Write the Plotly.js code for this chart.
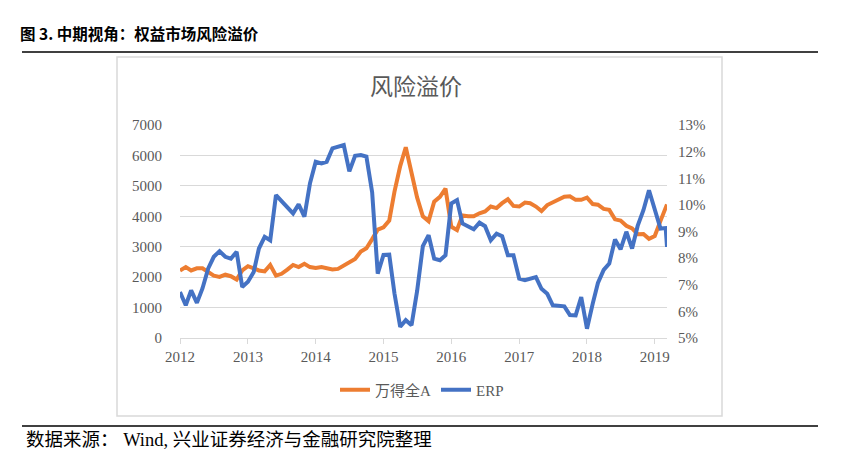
<!DOCTYPE html>
<html>
<head>
<meta charset="utf-8">
<script src="https://cdn.plot.ly/plotly-3.0.1.min.js"></script>
<style>
  body { margin: 0; background: #fff; }
  #plot { width: 842px; height: 456px; }
</style>
</head>
<body>
<div id="plot"></div>
<script>
// Monthly values, Jan 2012 .. Mar 2019, plus one early-March update
let windA = [
  2220, 2330, 2220, 2290, 2290, 2160, 2050, 2010, 2080, 2030, 1920, 2220,
  2360, 2290, 2220, 2190, 2400, 2050, 2110, 2250, 2400, 2330, 2440, 2330,
  2300, 2330, 2300, 2250, 2270, 2380, 2510, 2600, 2840, 2950, 3250, 3560,
  3640, 3860, 4800, 5650, 6270, 5400, 4620, 4000, 3840, 4480, 4640, 4910,
  3660, 3550, 4030, 4000, 4000, 4100, 4160, 4320, 4270, 4430, 4560, 4340,
  4320, 4450, 4430, 4320, 4170, 4370, 4460, 4540, 4640, 4660, 4540, 4540,
  4610, 4400, 4380, 4240, 4210, 3900, 3860, 3690, 3600, 3410, 3420, 3260,
  3350, 3850, 4330, 4390
];

let erp = [
  6.73, 6.23, 6.79, 6.32, 6.86, 7.61, 8.05, 8.26, 8.05, 7.98, 8.24, 6.92,
  7.11, 7.48, 8.36, 8.80, 8.67, 10.37, 10.14, 9.93, 9.68, 10.02, 9.56, 10.81,
  11.62, 11.56, 11.62, 12.12, 12.18, 12.25, 11.26, 11.84, 11.87, 11.81, 10.47, 7.42,
  8.12, 8.13, 6.68, 5.42, 5.67, 5.48, 6.76, 8.45, 8.86, 7.98, 7.92, 8.11,
  10.05, 10.18, 9.30, 9.20, 9.08, 9.33, 9.20, 8.67, 8.92, 8.82, 8.11, 8.11,
  7.23, 7.17, 7.23, 7.29, 6.85, 6.66, 6.23, 6.21, 6.19, 5.86, 5.85, 6.54,
  5.35, 6.29, 7.07, 7.56, 7.80, 8.70, 8.33, 8.99, 8.36, 9.21, 9.80, 10.55,
  9.80, 9.11, 9.13, 8.42
];

let yearTicks = ["2012", "2013", "2014", "2015", "2016", "2017", "2018", "2019"];

// Dates: first of each month, then the last update
let dates = [];
for (let y = 2012; y <= 2019; y++) {
  for (let m = 1; m <= 12; m++) {
    if (y === 2019 && m > 3) break;
    dates.push(y + "-" + String(m).padStart(2, "0") + "-01");
  }
}
dates.push("2019-03-08");

// Pixel -> paper helpers (plot area is x 180..667, y 125..338)
let X = function(px) { return (px - 180) / 487; };
let Y = function(py) { return (338 - py) / 213; };

let serif = "Liberation Serif, Noto Sans CJK SC, serif";
let grey = "#595959";

let trace1 = {
  x: dates,
  y: windA,
  type: "scatter",
  mode: "lines",
  name: "万得全A",
  line: { color: "#ED7D31", width: 4 },
  yaxis: "y"
};

let trace2 = {
  x: dates,
  y: erp,
  type: "scatter",
  mode: "lines",
  name: "ERP",
  line: { color: "#4472C4", width: 4 },
  yaxis: "y2"
};

let layout = {
  width: 842,
  height: 456,
  margin: { l: 180, r: 175, t: 125, b: 118 },
  paper_bgcolor: "#fff",
  plot_bgcolor: "rgba(0,0,0,0)",
  showlegend: true,
  xaxis: {
    type: "date",
    range: ["2012-01-01", "2019-03-08"],
    tickvals: yearTicks.map(function(t) { return t + "-01-01"; }),
    ticktext: yearTicks,
    ticks: "outside",
    ticklen: 5,
    tickcolor: "#D9D9D9",
    showline: true,
    linecolor: "#D9D9D9",
    showgrid: false,
    tickfont: { family: serif, size: 15, color: grey }
  },
  yaxis: {
    range: [0, 7000],
    dtick: 1000,
    gridcolor: "#D9D9D9",
    zeroline: false,
    ticklabelstandoff: 17,
    tickfont: { family: serif, size: 15, color: grey }
  },
  yaxis2: {
    range: [5, 13],
    dtick: 1,
    ticksuffix: "%",
    overlaying: "y",
    side: "right",
    showgrid: false,
    zeroline: false,
    ticklabelstandoff: 10,
    tickfont: { family: serif, size: 15, color: grey }
  },
  legend: {
    orientation: "h",
    x: X(422),
    xanchor: "center",
    y: Y(390),
    yanchor: "middle",
    font: { family: serif, size: 15, color: grey }
  },
  shapes: [
    { type: "line", xref: "paper", yref: "paper", x0: X(22), x1: X(818), y0: Y(52), y1: Y(52),
      line: { color: "#000", width: 1.5 } },
    { type: "rect", xref: "paper", yref: "paper", x0: X(117), x1: X(722), y0: Y(416), y1: Y(57),
      line: { color: "#D9D9D9", width: 1.5 } },
    { type: "line", xref: "paper", yref: "paper", x0: X(22), x1: X(818), y0: Y(426), y1: Y(426),
      line: { color: "#000", width: 1.5 } }
  ],
  annotations: [
    { text: "图 3. 中期视角：权益市场风险溢价", xref: "paper", yref: "paper",
      x: X(18), y: Y(33), xanchor: "left", yanchor: "middle", showarrow: false,
      font: { family: "Noto Sans CJK SC", size: 15.5, color: "#000", weight: 700 } },
    { text: "风险溢价", xref: "paper", yref: "paper",
      x: X(416), y: Y(85), xanchor: "center", yanchor: "middle", showarrow: false,
      font: { family: "Noto Sans CJK SC", size: 23, color: grey } },
    { text: "数据来源： Wind, 兴业证券经济与金融研究院整理", xref: "paper", yref: "paper",
      x: X(24), y: Y(440), xanchor: "left", yanchor: "middle", showarrow: false,
      font: { family: serif, size: 18.5, color: "#000" } }
  ]
};

Plotly.newPlot("plot", [trace1, trace2], layout, { displayModeBar: false, staticPlot: true });
</script>
</body>
</html>
